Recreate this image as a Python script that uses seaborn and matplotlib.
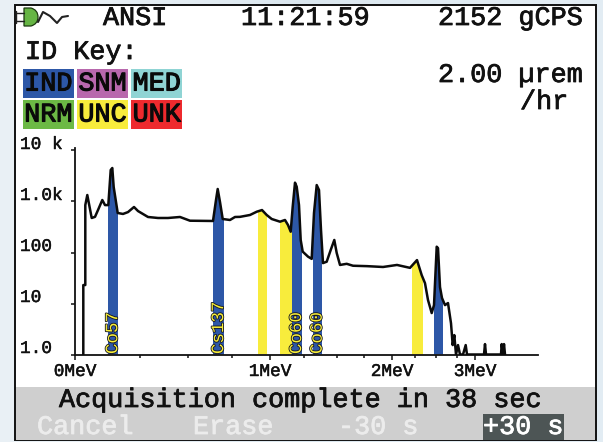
import numpy as np
import matplotlib
matplotlib.use("Agg")
import matplotlib.pyplot as plt
from matplotlib.patches import Rectangle, PathPatch
from matplotlib.path import Path
from matplotlib.transforms import ScaledTranslation
import matplotlib.patheffects as pe
import seaborn as sns

# ---------- data ----------
channels = [8.3, 8.3, 10.3, 10.3, 12.3, 16.7, 20, 23, 27.3, 30, 33.3, 35.7, 37.3, 38.7, 40.7, 42.7, 48, 53, 59, 63,
            73, 83, 93, 105, 115, 138, 141, 142.7, 145, 147.7, 155, 160, 165, 175, 181.7, 187, 191.7, 196.7, 205, 210,
            213, 215.7, 217.7, 220, 221.7, 224, 225.7, 227.7, 233, 236.7, 239, 241.7, 244, 246, 248, 251.7, 255.7,
            259.3, 261.7, 265, 271.7, 278, 292, 308, 322, 335, 342, 346.7, 350, 353, 356.7, 359, 361.7, 363, 365, 367,
            370, 373, 376, 377.7, 379.3, 381, 383, 385, 388, 390.7, 392, 409, 410, 411, 426, 426.7, 428, 429, 430]
counts = [1, 23, 23, 850, 1340, 475, 500, 680, 1070, 850, 850, 4150, 4540, 1920, 1070, 595, 570, 620, 780, 650,
          497, 475, 475, 497, 420, 415, 1070, 1760, 977, 454, 434, 497, 500, 544, 630, 680, 544, 454, 402, 434,
          346, 256, 790, 2340, 1950, 850, 176, 104, 83, 75, 595, 2100, 1680, 276, 62, 66, 112,
          176, 98, 57, 60, 55, 54, 52, 57, 50, 71, 36, 25, 11.7, 6.5, 9.3, 130, 122, 21, 12.8,
          9.3, 10.2, 4.1, 1.53, 2.4, 1, 1.53, 1, 1, 1.53, 1, 1, 1.6, 1, 1, 1.6, 1, 1.6, 1]

band_left = [33, 138.3, 183.3, 205, 216.5, 237.7, 337.3, 359.3]
band_right = [42.5, 149, 192.3, 216.5, 226.7, 246.7, 348.3, 368.3]
band_kind = ["IND", "IND", "UNC", "UNC", "IND", "IND", "UNC", "IND"]
band_iso = ["Co57", "Cs137", "", "", "Co60", "Co60", "", ""]

key_labels = ["IND", "SNM", "MED", "NRM", "UNC", "UNK"]
key_colors = ["#2d57a7", "#b868ad", "#8fd4d4", "#6cb945", "#f8ec3c", "#ee2a2e"]

y_ticks = [1, 10, 100, 1000, 10000]
y_labels = ["1.0", "10", "100", "1.0k", "10 k"]
x_ticks = [0, 195, 317, 400]
x_labels = ["0MeV", "1MeV", "2MeV", "3MeV"]
x_minor = [65, 113, 157, 229, 262, 289, 340, 361, 382]

# ---------- style ----------
sns.set_style("white")
FONT = "Liberation Mono"
plt.rcParams["font.family"] = [FONT, "DejaVu Sans Mono"]
W, H = 603, 442
fig = plt.figure(figsize=(W / 100, H / 100), dpi=100)

# pixel-space layer for the device screen
base = fig.add_axes([0, 0, 1, 1])
base.set_xlim(0, W)
base.set_ylim(H, 0)
base.axis("off")
grad = np.array([[0.0, 0.5, 1.0]])
cmap = matplotlib.colors.LinearSegmentedColormap.from_list("bg", ["#eaf1f6", "#dbe7ef", "#e3edf4"])
base.imshow(grad, extent=(0, W, H, 0), aspect="auto", cmap=cmap, zorder=0, interpolation="bicubic")
base.set_xlim(0, W)
base.set_ylim(H, 0)
base.add_patch(Rectangle((15, 5), 581, 435, fc="white", ec="#111111", lw=1.4, zorder=1))
base.add_patch(Rectangle((16, 387), 579, 52.5, fc="#cfcfcf", ec="none", zorder=2))
base.add_patch(Rectangle((483, 414), 81, 25.5, fc="#4d5555", ec="none", zorder=3))


def label(x, y, s, color="#111111", size=19.3, ha="left", heavy=0.55, **kw):
    t = base.text(x, y, s, color=color, fontsize=size, ha=ha, va="center", zorder=6, **kw)
    t.set_path_effects([pe.withStroke(linewidth=heavy, foreground=color)])
    return t


label(103, 18, "ANSI")
label(241, 18, "11:21:59")
label(438, 18, "2152 gCPS")
label(25, 52, "ID Key:")
label(438, 75, "2.00 µrem")
label(520, 102, "/hr")
label(59, 400, "Acquisition complete in 38 sec")
label(37, 427, "Cancel", color="#ececec")
label(193, 427, "Erase", color="#ececec")
label(338, 427, "-30 s", color="#ececec")
label(483, 427, "+30 s", color="white")

# ID key
for i, (name, col) in enumerate(zip(key_labels, key_colors)):
    x0 = 23 + (i % 3) * 54.2
    y0 = 69 + (i // 3) * 31
    base.add_patch(Rectangle((x0, y0), 50.5, 29, fc=col, ec="none", zorder=4))
    label(x0 + 25.2, y0 + 14.5, name, ha="center", color="#0a0a0a", heavy=0.8)

# status icon
verts = [(24, 8), (31, 8), (38, 10), (38, 17), (38, 24), (31, 26), (24, 26), (24, 8)]
codes = [Path.MOVETO, Path.LINETO, Path.CURVE3, Path.CURVE3, Path.CURVE3, Path.CURVE3, Path.LINETO, Path.CLOSEPOLY]
base.add_patch(PathPatch(Path(verts, codes), fc="#66b544", ec="#1c3a10", lw=0.9, zorder=5))
base.plot([16, 24], [13, 13], color="#222222", lw=1, zorder=5)
base.plot([16, 24], [21, 21], color="#222222", lw=1, zorder=5)
base.plot([16, 16], [11, 23], color="#222222", lw=1, zorder=5)
base.plot([38, 43, 50, 57, 62, 68], [22, 12, 16, 23, 17, 16], color="#222222", lw=1.5, zorder=5)

# ---------- spectrum ----------
ax = fig.add_axes([75 / W, (H - 354.5) / H, 463 / W, 206.5 / H], facecolor="none")
ax.set_zorder(5)
ax.set_yscale("log")
ax.set_xlim(0, 463)
ax.set_ylim(1, 10 ** (206.5 / 51))

outline = ax.fill_between(channels, 1, counts, color="none", lw=0)
clip_path = outline.get_paths()[0]

band_colors = {"IND": "#2d57a7", "UNC": "#f8ec3c"}
for a, b, kind in zip(band_left, band_right, band_kind):
    bar = ax.bar(a, 20000, width=b - a, bottom=1, align="edge", color=band_colors[kind], lw=0, zorder=2)[0]
    bar.set_clip_path(clip_path, outline.get_transform())

sns.lineplot(x=channels, y=counts, sort=False, estimator=None, errorbar=None, color="#0b0b0b", lw=1.8, ax=ax, zorder=3)

for a, b, iso in zip(band_left, band_right, band_iso):
    if iso:
        ax.text((a + b) / 2, 1.02, iso, rotation=90, ha="center", va="bottom", color="#f6ee3a", fontsize=12.6,
                zorder=4, clip_on=False,
                path_effects=[pe.withStroke(linewidth=1.2, foreground="#15151f")])

for side in ("top", "right"):
    ax.spines[side].set_visible(False)
for side in ("left", "bottom"):
    ax.spines[side].set_linewidth(1.3)
    ax.spines[side].set_color("#111111")

ax.set_xticks(x_ticks)
ax.set_xticklabels(x_labels)
ax.set_xticks(x_minor, minor=True)
ax.set_yticks(y_ticks)
ax.set_yticklabels(y_labels)
ax.yaxis.set_minor_locator(matplotlib.ticker.NullLocator())
ax.tick_params(axis="x", which="major", length=3.6, width=1.1, color="#111111", pad=2.5, labelsize=12.8,
               labelcolor="#111111", bottom=True)
ax.tick_params(axis="x", which="minor", length=2.4, width=1.1, color="#111111", bottom=True)
ax.tick_params(axis="y", which="major", length=2.6, width=1.1, color="#111111", pad=37, labelsize=12.8,
               labelcolor="#111111", left=True)
up = ScaledTranslation(0, 8 / 100, fig.dpi_scale_trans)
for t in ax.get_yticklabels():
    t.set_ha("left")
    t.set_transform(t.get_transform() + up)
for t in ax.get_xticklabels() + ax.get_yticklabels():
    t.set_path_effects([pe.withStroke(linewidth=0.35, foreground="#111111")])
ax.set_xlabel("")
ax.set_ylabel("")

fig.savefig("out.png", dpi=100)
